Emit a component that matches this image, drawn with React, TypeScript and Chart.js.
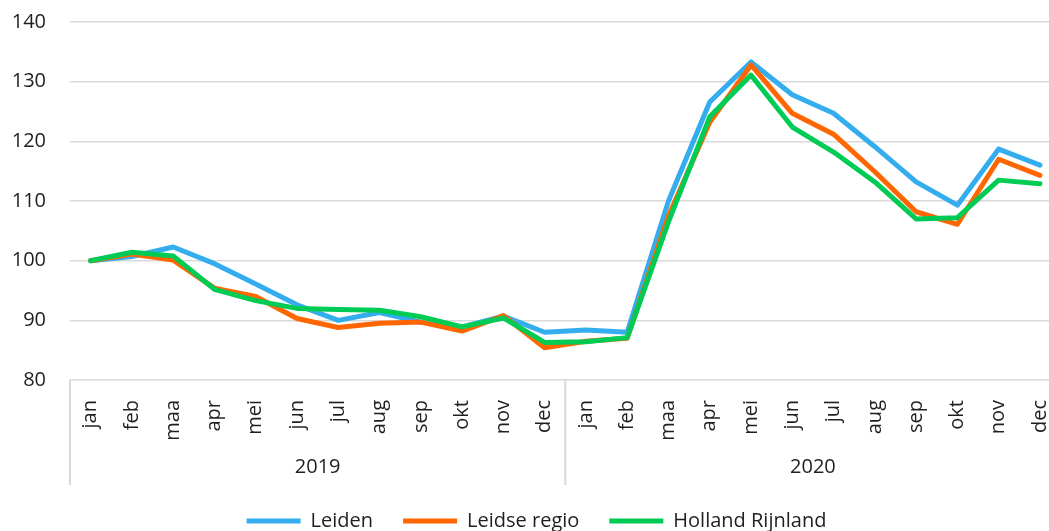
import React, { useEffect, useRef } from "react";
import { Chart, registerables } from "chart.js";

Chart.register(...registerables);

const months = ["jan", "feb", "maa", "apr", "mei", "jun", "jul", "aug", "sep", "okt", "nov", "dec"];
const years = ["2019", "2020"];
const labels = [...months, ...months];

const leiden = [100, 100.7, 102.3, 99.5, 96.1, 92.6, 90.0, 91.3, 89.7, 88.9, 90.7, 88.0, 88.4, 88.0, 110.0, 126.6, 133.3, 127.8, 124.7, 119.1, 113.2, 109.3, 118.7, 116.0];
const leidseRegio = [100, 101.1, 100.1, 95.4, 94.0, 90.3, 88.8, 89.5, 89.7, 88.2, 90.8, 85.4, 86.5, 87.0, 107.5, 123.2, 132.8, 124.7, 121.2, 114.9, 108.2, 106.1, 117.0, 114.3];
const hollandRijnland = [100, 101.4, 100.8, 95.2, 93.3, 92.0, 91.8, 91.7, 90.6, 88.9, 90.4, 86.3, 86.4, 87.1, 106.5, 124.1, 131.1, 122.4, 118.2, 113.2, 107.0, 107.2, 113.5, 112.9];

const FONT = "'Open Sans', 'Noto Sans', sans-serif";
const TEXT = "#1f1f1f";
const GRID = "#d9d9d9";

const yearPlugin = {
  id: "yearGroups",
  afterDraw(chart: any) {
    const x = chart.scales.x;
    const { ctx, chartArea } = chart;
    const top = chartArea.bottom;
    const bottom = top + 105;
    const bounds: number[] = [x.left];
    years.forEach((_, gi) => {
      const end = (gi + 1) * months.length - 1;
      if (gi === years.length - 1) bounds.push(x.right);
      else bounds.push((x.getPixelForTick(end) + x.getPixelForTick(end + 1)) / 2);
    });
    ctx.save();
    ctx.strokeStyle = GRID;
    ctx.lineWidth = 2;
    bounds.forEach((b) => {
      ctx.beginPath();
      ctx.moveTo(b, top);
      ctx.lineTo(b, bottom);
      ctx.stroke();
    });
    ctx.fillStyle = TEXT;
    ctx.font = `20px ${FONT}`;
    ctx.textAlign = "center";
    ctx.textBaseline = "middle";
    years.forEach((yr, gi) => {
      ctx.fillText(yr, (bounds[gi] + bounds[gi + 1]) / 2, top + 87);
    });
    ctx.restore();
  },
};

export default function App() {
  const ref = useRef<HTMLCanvasElement>(null);
  useEffect(() => {
    if (!ref.current) return;
    const mk = (label: string, data: number[], color: string, order: number) => ({
      label,
      data,
      borderColor: color,
      backgroundColor: color,
      borderWidth: 5,
      pointRadius: 0,
      tension: 0,
      borderCapStyle: "round" as const,
      borderJoinStyle: "round" as const,
      pointStyle: "line",
      order,
    });
    const chart = new Chart(ref.current, {
      type: "line",
      data: {
        labels,
        datasets: [
          mk("Leiden", leiden, "#33adee", 3),
          mk("Leidse regio", leidseRegio, "#ff6600", 2),
          mk("Holland Rijnland", hollandRijnland, "#00cc55", 1),
        ],
      },
      options: {
        responsive: false,
        animation: false,
        layout: { padding: { top: 22, right: 3, left: 0, bottom: -10 } },
        plugins: {
          tooltip: { enabled: false },
          legend: {
            position: "bottom",
            labels: {
              usePointStyle: true,
              pointStyleWidth: 54,
              boxHeight: 5,
              padding: 30,
              color: TEXT,
              font: { family: FONT, size: 20 },
              sort: (a: any, b: any) => a.datasetIndex - b.datasetIndex,
            },
          },
        },
        scales: {
          x: {
            offset: true,
            grid: { display: false },
            border: { display: false },
            ticks: {
              minRotation: 90,
              maxRotation: 90,
              autoSkip: false,
              padding: 12,
              color: TEXT,
              font: { family: FONT, size: 20 },
            },
            afterFit: (s: any) => {
              s.height = 101;
            },
          },
          y: {
            min: 80,
            max: 140,
            ticks: {
              stepSize: 10,
              padding: 24,
              color: TEXT,
              font: { family: FONT, size: 20 },
            },
            grid: { color: GRID, lineWidth: 1.5, drawTicks: false },
            border: { display: false },
            afterFit: (s: any) => {
              s.width = 70;
              s.paddingTop = 10;
              s.paddingBottom = 10;
            },
          },
        },
      },
      plugins: [yearPlugin],
    });
    return () => chart.destroy();
  }, []);
  return (
    <div style={{ position: "fixed", left: 0, top: 0, width: 1049, height: 531, overflow: "hidden", background: "#fff" }}>
      <canvas ref={ref} width={1076} height={531} />
    </div>
  );
}
